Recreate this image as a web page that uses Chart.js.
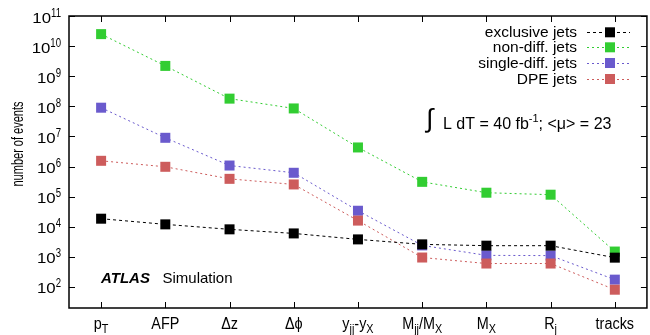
<!DOCTYPE html>
<html>
<head>
<meta charset="utf-8">
<script src="https://cdn.jsdelivr.net/npm/chart.js@4.4.1/dist/chart.umd.min.js"></script>
<style>
  html, body { margin: 0; padding: 0; background: #fff; overflow: hidden; }
  #wrap { width: 654px; height: 335px; }
</style>
</head>
<body>
<div id="wrap"><canvas id="chart" width="654" height="335"></canvas></div>
<script>
// categories on the x axis
const categories = ["pT", "AFP", "dz", "dphi", "yjj-yX", "Mjj/MX", "MX", "Rj", "tracks"];

// tick labels as pieces: [text, kind] where kind 0 = normal, 1 = subscript, 2 = superscript
const xTickLabels = [
    [["p", 0], ["T", 1]],
    [["AFP", 0]],
    [["\u0394z", 0]],
    [["\u0394\u03d5", 0]],
    [["y", 0], ["jj", 1], ["-y", 0], ["X", 1]],
    [["M", 0], ["jj", 1], ["/M", 0], ["X", 1]],
    [["M", 0], ["X", 1]],
    [["R", 0], ["j", 1]],
    [["tracks", 0]],
];
const yTickExponents = [2, 3, 4, 5, 6, 7, 8, 9, 10, 11];

// number of events per selection step
const exclusiveJets  = [1.85e4, 1.2e4, 8.2e3, 6.0e3, 3.8e3, 2.6e3, 2.35e3, 2.35e3, 9.4e2];
const nonDiffJets    = [2.5e10, 2.2e9, 1.8e8, 8.5e7, 4.3e6, 3.1e5, 1.35e5, 1.16e5, 1.5e3];
const singleDiffJets = [9.0e7, 9.0e6, 1.08e6, 6.2e5, 3.4e4, 2.4e3, 1.12e3, 1.1e3, 1.75e2];
const dpeJets        = [1.55e6, 9.8e5, 3.9e5, 2.54e5, 1.6e4, 9.5e2, 6.0e2, 6.0e2, 81];

const seriesLabels = ["exclusive jets", "non-diff. jets", "single-diff. jets", "DPE jets"];
const seriesColors = ["#000000", "#32cd32", "#6a5acd", "#cd5c5c"];

const FONT = '"Liberation Sans", Arial, Helvetica, sans-serif';

function putText(ctx, text, x, y, font, sx) {
    ctx.save();
    ctx.font = font;
    ctx.translate(x, y);
    ctx.scale(sx, 1);
    ctx.fillText(text, 0, 0);
    ctx.restore();
}

function textWidth(ctx, text, font, sx) {
    ctx.font = font;
    return ctx.measureText(text).width * sx;
}

// draws text made of normal / sub / sup pieces
function drawRich(ctx, pieces, x, y, align, st) {
    const fontOf = (k) => k ? st.small : st.font;
    const sxOf = (k) => k ? st.smallSx : st.sx;
    let w = 0;
    pieces.forEach(([t, k]) => { w += textWidth(ctx, t, fontOf(k), sxOf(k)); });
    let cx = align === "center" ? x - w / 2 : align === "right" ? x - w : x;
    pieces.forEach(([t, k]) => {
        const dy = k === 1 ? st.subDy : k === 2 ? -st.supDy : 0;
        putText(ctx, t, cx, y + dy, fontOf(k), sxOf(k));
        cx += textWidth(ctx, t, fontOf(k), sxOf(k));
    });
}

function line(ctx, x1, y1, x2, y2) {
    ctx.beginPath();
    ctx.moveTo(x1, y1);
    ctx.lineTo(x2, y2);
    ctx.stroke();
}

const framePlugin = {
    id: "frame",
    beforeDraw(chart) {
        const ctx = chart.ctx;
        ctx.save();
        ctx.fillStyle = "#fff";
        ctx.fillRect(0, 0, chart.width, chart.height);
        ctx.restore();
    },
    afterDraw(chart) {
        const { ctx, chartArea: a, scales: { x, y } } = chart;
        ctx.save();
        ctx.strokeStyle = "#000";
        ctx.fillStyle = "#000";
        ctx.lineWidth = 1;
        ctx.setLineDash([]);

        // tick marks, pointing inwards on all four sides
        yTickExponents.forEach((e) => {
            const py = Math.round(y.getPixelForValue(Math.pow(10, e))) + 0.5;
            line(ctx, a.left, py, a.left + 6, py);
            line(ctx, a.right - 6, py, a.right, py);
        });
        categories.forEach((c, i) => {
            const px = Math.round(x.getPixelForValue(i)) + 0.5;
            line(ctx, px, a.bottom, px, a.bottom - 6);
            line(ctx, px, a.top, px, a.top + 6);
        });

        // frame
        ctx.lineWidth = 1.5;
        ctx.strokeRect(a.left, a.top, a.right - a.left, a.bottom - a.top);

        // y tick labels 10^n
        const yStyle = { font: "15px " + FONT, sx: 1.12, small: "12px " + FONT, smallSx: 0.8, supDy: 6, subDy: 0 };
        ctx.textBaseline = "alphabetic";
        yTickExponents.forEach((e) => {
            const py = y.getPixelForValue(Math.pow(10, e));
            drawRich(ctx, [["10", 0], [String(e), 2]], 61, py + 6.5, "right", yStyle);
        });

        // x tick labels
        const xStyle = { font: "16px " + FONT, sx: 0.9, small: "12px " + FONT, smallSx: 0.9, subDy: 4, supDy: 0 };
        xTickLabels.forEach((pieces, i) => {
            drawRich(ctx, pieces, x.getPixelForValue(i), 329, "center", xStyle);
        });

        // y axis title, rotated
        ctx.save();
        ctx.translate(22.5, 144);
        ctx.rotate(-Math.PI / 2);
        ctx.font = "17px " + FONT;
        const tw = ctx.measureText("number of events").width;
        ctx.scale(85 / tw, 1);
        ctx.textAlign = "center";
        ctx.fillText("number of events", 0, 0);
        ctx.restore();

        // legend: text right aligned, then dashed line with a square marker
        const rows = [32.3, 47.3, 63, 79];
        seriesLabels.forEach((lab, i) => {
            ctx.font = "15.5px " + FONT;
            ctx.textAlign = "right";
            ctx.textBaseline = "middle";
            ctx.fillText(lab, 577, rows[i] + 0.5);
            ctx.strokeStyle = seriesColors[i];
            ctx.lineWidth = 1;
            ctx.setLineDash(i === 0 ? [3, 3] : [2, 3]);
            line(ctx, 587, Math.round(rows[i]) + 0.5, 630, Math.round(rows[i]) + 0.5);
            ctx.setLineDash([]);
            ctx.fillStyle = seriesColors[i];
            ctx.fillRect(605, rows[i] - 5, 10, 10);
            ctx.fillStyle = "#000";
        });

        // luminosity label
        ctx.textAlign = "left";
        ctx.textBaseline = "alphabetic";
        ctx.font = "26px " + FONT;
        ctx.fillText("\u222b", 426, 127);
        const lumStyle = { font: "16px " + FONT, sx: 1.0, small: "11px " + FONT, smallSx: 1.0, supDy: 7, subDy: 0 };
        drawRich(ctx, [["L dT = 40 fb", 0], ["-1", 2], ["; <\u03bc> = 23", 0]], 443, 128.5, "left", lumStyle);

        // ATLAS Simulation
        ctx.font = "italic bold 15px " + FONT;
        ctx.fillText("ATLAS", 101, 283);
        ctx.font = "15px " + FONT;
        ctx.fillText("Simulation", 162.5, 283);

        ctx.restore();
    },
};

function makeDataset(label, data, color, dash) {
    return {
        label: label,
        data: data,
        borderColor: color,
        backgroundColor: color,
        borderWidth: 1,
        borderDash: dash,
        pointStyle: "rect",
        pointRadius: 7.07,
        pointHoverRadius: 7.07,
        pointBorderWidth: 0,
        tension: 0,
    };
}

// first dataset is drawn on top, so black goes first and red over purple
const datasets = [
    makeDataset(seriesLabels[0], exclusiveJets, seriesColors[0], [3, 3]),
    makeDataset(seriesLabels[3], dpeJets, seriesColors[3], [2, 3]),
    makeDataset(seriesLabels[2], singleDiffJets, seriesColors[2], [2, 3]),
    makeDataset(seriesLabels[1], nonDiffJets, seriesColors[1], [2, 3]),
];

new Chart(document.getElementById("chart").getContext("2d"), {
    type: "line",
    data: { labels: categories, datasets: datasets },
    options: {
        responsive: false,
        animation: false,
        devicePixelRatio: 1,
        layout: { padding: { top: 16, right: 3, bottom: 0, left: 0 } },
        plugins: { legend: { display: false }, tooltip: { enabled: false } },
        scales: {
            x: {
                type: "category",
                offset: true,
                grid: { display: false },
                border: { display: false },
                ticks: { display: false },
                afterFit(scale) { scale.height = 27; },
            },
            y: {
                type: "logarithmic",
                min: 20,
                max: 1e11,
                grid: { display: false },
                border: { display: false },
                ticks: { display: false },
                afterFit(scale) { scale.width = 69; },
            },
        },
    },
    plugins: [framePlugin],
});
</script>
</body>
</html>
